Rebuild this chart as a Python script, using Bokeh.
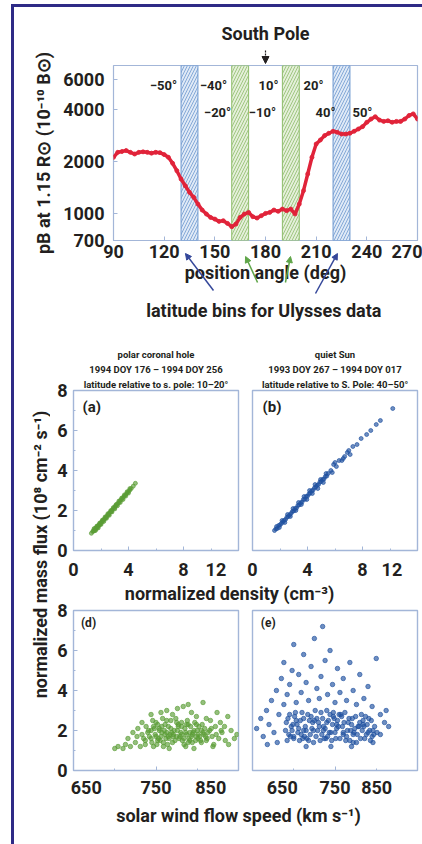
import math
from bokeh.plotting import figure
from bokeh.layouts import column, row
from bokeh.models import (Range1d, FixedTicker, PrintfTickFormatter, Label, Arrow,
                          NormalHead, Title)
from bokeh.embed import file_html
from bokeh.resources import INLINE

# ---------------- data ----------------
position_angle = [90, 92.5, 95, 97.5, 100, 102.5, 105, 107.5, 110, 112.5, 115, 117.5,
                  120, 122.5, 125, 127.5, 130, 132.5, 135, 137.5, 140, 142.5, 145, 147.5,
                  150, 152.5, 155, 157.5, 160, 162.5, 165, 167.5, 170, 172.5, 175, 177.5,
                  180, 182.5, 185, 187.5, 190, 192.5, 195, 197.5, 200, 202.5, 205, 207.5,
                  210, 212.5, 215, 217.5, 220, 222.5, 225, 227.5, 230, 232.5, 235, 237.5,
                  240, 242.5, 245, 247.5, 250, 252.5, 255, 257.5, 260, 262.5, 265, 267.5, 270]
pb_brightness = [2120, 2265, 2290, 2320, 2265, 2215, 2265, 2280, 2265, 2240, 2265, 2255,
                 2198, 2120, 1957, 1774, 1587, 1452, 1329, 1244, 1137, 1050, 996, 952,
                 931, 903, 911, 879, 841, 871, 952, 996, 1018, 961, 944, 974,
                 1004, 1018, 1050, 1032, 1064, 1041, 1064, 996, 1137, 1359, 1698, 2120,
                 2530, 2670, 2830, 2920, 3000, 2960, 2890, 2890, 2920, 3000, 3090, 3190,
                 3380, 3530, 3640, 3480, 3420, 3450, 3380, 3420, 3420, 3530, 3700, 3780, 3530]

band_left = [130, 160, 190, 220]
band_right = [140, 170, 200, 230]
band_kind = ["blue", "green", "green", "blue"]
lat_row1 = ["\u221250\u00b0", "\u221240\u00b0", "10\u00b0", "20\u00b0"]
lat_row2 = ["\u221220\u00b0", "\u221210\u00b0", "40\u00b0", "50\u00b0"]
top_xticks = [90, 120, 150, 180, 210, 240, 270]
top_yticks = [700, 1000, 2000, 4000, 6000]

# polar coronal hole (a): density vs mass flux
a_density = [1.3, 1.4, 1.45, 1.5, 1.55, 1.6, 1.65, 1.7, 1.75, 1.8, 1.85, 1.9, 1.95, 2.0,
             2.05, 2.1, 2.15, 2.2, 2.25, 2.3, 2.35, 2.4, 2.5, 2.55, 2.6, 2.7, 2.75, 2.8,
             2.9, 3.0, 3.05, 3.1, 3.2, 3.3, 3.4, 3.5, 3.6, 3.7, 3.8, 3.9, 4.0, 4.1, 4.2,
             4.35, 4.5,
             1.5, 1.7, 1.9, 2.1, 2.3, 2.5, 2.7, 2.9, 3.1, 3.3, 3.5, 3.7, 3.9, 4.1,
             1.6, 1.8, 2.0, 2.2, 2.4, 2.6, 2.8, 3.0, 3.2, 3.4, 3.6, 3.8, 4.0]
a_flux = [0.86, 0.95, 1.0, 0.98, 1.08, 1.05, 1.15, 1.12, 1.22, 1.2, 1.28, 1.3, 1.33, 1.4,
          1.42, 1.46, 1.5, 1.55, 1.56, 1.63, 1.64, 1.7, 1.78, 1.8, 1.86, 1.93, 1.95, 2.02,
          2.1, 2.15, 2.22, 2.25, 2.34, 2.4, 2.5, 2.56, 2.65, 2.72, 2.8, 2.88, 2.95, 3.02, 3.1,
          3.22, 3.36,
          1.1, 1.22, 1.37, 1.52, 1.68, 1.84, 1.99, 2.15, 2.3, 2.47, 2.62, 2.78, 2.94, 3.1,
          1.0, 1.13, 1.3, 1.45, 1.61, 1.76, 1.93, 2.08, 2.24, 2.4, 2.55, 2.72, 2.87]

# quiet Sun (b): density vs mass flux
b_density = [1.6, 1.7, 1.8, 1.9, 2.0, 2.1, 2.2, 2.3, 2.4, 2.5, 2.6, 2.7, 2.8, 2.9, 3.0,
             3.1, 3.2, 3.3, 3.4, 3.5, 3.6, 3.7, 3.8, 3.9, 4.0, 4.1, 4.2, 4.3, 4.4, 4.5,
             4.6, 4.7, 4.8, 4.9, 5.0, 5.1, 5.2, 5.3, 5.4, 5.5,
             1.75, 1.95, 2.15, 2.35, 2.55, 2.75, 2.95, 3.15, 3.35, 3.55, 3.75, 3.95, 4.15,
             4.35, 4.55, 4.75, 4.95, 5.15, 5.35,
             5.7, 5.9, 6.1, 6.3, 6.5, 6.7, 6.9, 7.1, 7.3, 7.6, 7.9, 8.3, 8.6, 9.0, 9.3,
             10.2, 5.8, 6.0, 6.6, 7.0]
b_flux = [1.0, 1.08, 1.1, 1.25, 1.28, 1.35, 1.42, 1.5, 1.55, 1.66, 1.7, 1.78, 1.85, 1.95,
          1.98, 2.1, 2.12, 2.25, 2.28, 2.38, 2.42, 2.55, 2.56, 2.7, 2.72, 2.82, 2.88, 2.98,
          3.02, 3.12, 3.18, 3.26, 3.3, 3.42, 3.45, 3.55, 3.58, 3.7, 3.72, 3.85,
          1.2, 1.15, 1.5, 1.4, 1.8, 1.7, 2.1, 2.0, 2.4, 2.3, 2.7, 2.55, 3.0, 2.85, 3.3, 3.1,
          3.55, 3.4, 3.85,
          4.0, 4.3, 4.2, 4.5, 4.5, 4.7, 4.9, 4.8, 5.2, 5.3, 5.6, 5.8, 6.0, 6.3, 6.5,
          7.1, 3.9, 4.4, 4.6, 5.0]

# polar coronal hole (d): flow speed vs mass flux
d_speed = [735, 740, 745, 748, 750, 752, 755, 757, 760, 762, 765, 767, 770, 772, 775, 777,
           780, 782, 785, 787, 790, 792, 795, 798, 800, 803, 806, 808, 812, 815,
           738, 742, 746, 751, 754, 758, 761, 764, 768, 771, 774, 778, 781, 784, 788, 791,
           794, 797, 801, 805, 809, 813, 818, 822, 826, 830, 834,
           700, 704, 710, 713, 716, 719, 722, 725, 728, 731, 733, 744, 756, 763, 770, 776,
           783, 789, 793, 799, 807, 811, 816, 820, 824, 828, 833, 837, 841, 845, 848, 838,
           727, 737, 747, 759, 766, 786, 796, 819,
           733, 737, 741, 744, 747, 749, 752, 754, 756, 759, 761, 763, 766, 768, 771, 773,
           776, 779, 781, 784, 786, 789, 791, 794, 796, 799, 802, 804, 807, 810,
           744, 750, 757, 763, 769, 775, 781, 787, 793, 799, 805, 811, 817, 823, 829,
           753, 765, 777, 789, 801]
d_flux = [1.6, 1.9, 1.4, 2.1, 1.7, 2.3, 1.5, 1.9, 2.0, 1.6, 2.2, 1.8, 1.4, 2.0, 1.7, 2.3,
          1.9, 1.5, 2.1, 1.8, 1.6, 2.2, 1.9, 1.5, 2.0, 1.7, 2.3, 1.8, 1.6, 2.0,
          2.2, 1.7, 2.5, 1.3, 2.0, 2.6, 1.8, 1.3, 2.5, 1.7, 2.6, 1.6, 2.4, 1.3, 2.5, 1.9,
          1.4, 2.4, 1.8, 1.4, 2.1, 1.9, 1.7, 2.2, 1.6, 1.9, 1.5,
          1.1, 1.2, 1.1, 1.3, 1.6, 1.2, 1.9, 1.4, 2.1, 1.2, 2.4, 2.8, 2.9, 3.0, 2.8, 3.1,
          3.2, 3.3, 2.9, 2.7, 3.4, 2.6, 2.5, 1.3, 2.9, 2.4, 2.2, 2.7, 2.0, 1.6, 1.8, 1.3,
          1.7, 1.3, 1.2, 1.2, 1.1, 1.2, 1.1, 1.2,
          1.8, 1.5, 2.0, 1.6, 2.2, 1.8, 1.5, 2.1, 1.7, 1.4, 2.3, 1.9, 1.6, 2.1, 1.8, 1.5,
          2.0, 1.7, 2.2, 1.6, 1.9, 2.3, 1.5, 1.8, 2.0, 1.7, 2.2, 1.5, 1.9, 1.7,
          2.0, 2.4, 2.2, 2.5, 1.9, 2.4, 1.8, 2.3, 1.7, 2.3, 2.0, 1.5, 2.1, 1.8, 2.0,
          1.6, 1.7, 2.2, 1.4, 1.6]

# quiet Sun (e): flow speed vs mass flux
e_speed = [690, 693, 696, 699, 702, 705, 708, 711, 714, 717, 720, 723, 726, 729, 732, 735,
           738, 741, 744, 747, 750, 753, 756, 759, 762, 765, 768, 771, 774, 777, 780, 783,
           786, 789, 792, 795, 798, 801,
           692, 698, 704, 710, 716, 722, 728, 734, 740, 746, 752, 758, 764, 770, 776, 782,
           788, 794, 700, 712, 724, 736, 748, 760, 772, 784, 796,
           655, 660, 663, 667, 670, 673, 676, 679, 682, 685, 688, 688, 692, 695, 698, 700,
           703, 706, 709, 712, 715, 718, 721, 725, 728, 731, 733, 735, 738, 741, 744, 747,
           750, 753, 756, 760, 764, 768, 772, 776, 780, 785, 790, 795, 800, 805, 810, 815,
           805, 812, 715, 745, 770, 680, 668,
           691, 694, 697, 700, 703, 706, 709, 712, 715, 718, 721, 724, 727, 730, 733, 736,
           739, 742, 745, 748, 751, 754, 757, 760, 763, 766, 769, 772, 775, 778, 781, 784,
           787, 790, 793, 796,
           695, 707, 719, 731, 743, 755, 767, 779, 791, 701, 713, 725, 737, 749, 761, 773,
           785, 797, 740, 752]
e_flux = [2.0, 2.6, 1.7, 2.3, 2.9, 1.9, 2.5, 1.6, 2.2, 2.8, 1.8, 2.4, 3.0, 2.0, 1.5, 2.6,
          2.1, 1.7, 2.8, 2.3, 1.9, 2.5, 1.6, 2.2, 2.9, 2.0, 1.5, 2.6, 2.1, 1.8, 2.4, 2.0,
          1.6, 2.3, 2.0, 1.7, 2.2, 1.9,
          1.5, 2.0, 2.3, 2.9, 1.6, 2.1, 2.6, 1.8, 2.4, 1.5, 2.1, 2.7, 1.7, 2.3, 1.4, 2.8,
          1.8, 2.5, 1.6, 2.0, 1.4, 2.2, 2.9, 1.8, 1.4, 2.5, 1.4,
          2.1, 2.6, 1.7, 3.0, 2.3, 3.5, 1.9, 4.0, 2.8, 4.6, 3.3, 5.4, 3.8, 4.3, 5.0, 6.3,
          3.4, 4.8, 3.9, 5.8, 4.4, 3.5, 5.2, 6.6, 4.1, 3.6, 4.7, 7.2, 5.5, 3.8, 6.0, 4.3,
          3.4, 5.1, 3.9, 4.6, 3.5, 5.4, 4.0, 3.3, 4.8, 3.6, 4.2, 3.2, 5.6, 2.8, 2.4, 2.2,
          1.8, 3.0, 1.2, 1.2, 1.2, 1.4, 1.3,
          2.4, 1.8, 2.2, 1.7, 2.5, 2.1, 1.8, 2.6, 2.0, 1.5, 2.7, 2.0, 1.7, 2.4, 2.9, 2.0,
          1.6, 2.5, 1.9, 2.7, 1.6, 2.2, 2.8, 1.9, 1.5, 2.4, 2.0, 1.8, 2.7, 2.2, 1.6, 2.3,
          2.7, 1.9, 1.5, 2.0,
          2.8, 1.5, 2.5, 2.2, 1.9, 2.8, 2.6, 2.2, 2.6, 2.7, 1.7, 2.5, 1.6, 2.6, 2.4, 1.9,
          2.2, 1.8, 3.0, 2.3]

density_ticks = [0, 4, 8, 12]
speed_ticks = [650, 750, 850]
flux_ticks = [0, 2, 4, 6, 8]

# ---------------- style ----------------
FONT = "Roboto"
TXT = "#231f20"
FRAME = "#a3b6d8"
RED = "#e0233a"
GREEN = "#5a9c36"
BLUE = "#2152a0"
NAVY = "#2e2a86"
FS = "18px"


def style_axis(ax, standoff):
    ax.axis_line_color = None
    ax.major_tick_in = 4
    ax.major_tick_out = 0
    ax.minor_tick_in = 2
    ax.minor_tick_out = 0
    ax.major_tick_line_color = FRAME
    ax.minor_tick_line_color = FRAME
    ax.major_label_text_font = FONT
    ax.major_label_text_font_style = "bold"
    ax.major_label_text_font_size = FS
    ax.major_label_text_color = TXT
    ax.major_label_standoff = standoff
    ax.axis_label_text_font = FONT
    ax.axis_label_text_font_style = "bold"
    ax.axis_label_text_font_size = FS
    ax.axis_label_text_color = TXT


def lab(p, x, y, text, size, align="center"):
    p.add_layout(Label(x=x, y=y, text=text, text_font=FONT, text_font_style="bold",
                       text_font_size=size, text_color=TXT, text_align=align,
                       text_baseline="middle"))


def blank(width, height, xr, yr, left=0, right=0, transparent=False):
    f = figure(width=width, height=height, x_range=Range1d(*xr), y_range=Range1d(*yr),
               x_axis_location=None, y_axis_location=None, output_backend="svg",
               toolbar_location=None, title_location=None,
               min_border_left=left, min_border_right=right,
               min_border_top=0, min_border_bottom=0)
    f.outline_line_color = None
    f.grid.visible = False
    if transparent:
        f.background_fill_color = None
        f.border_fill_color = None
    return f


# ---------------- header: South Pole ----------------
header = blank(408, 58, (90, 270), (0, 58), left=99, right=5)
lab(header, 180, 32, "South Pole", "18px")
header.add_layout(Arrow(end=NormalHead(size=7, fill_color=TXT, line_color=TXT),
                        x_start=180, y_start=15, x_end=180, y_end=2,
                        line_color=TXT, line_width=1.2, line_dash="2 1"))

# ---------------- top panel ----------------
top = figure(width=408, height=283, x_range=Range1d(90, 270), y_range=Range1d(700, 7200),
             y_axis_type="log", output_backend="svg", toolbar_location=None,
             title_location=None,
             min_border_left=99, min_border_right=5, min_border_top=18, min_border_bottom=90)
top.margin = (-18, 0, 0, 0)
top.border_fill_color = None
top.outline_line_color = FRAME
top.outline_line_width = 1.2
top.grid.visible = False

fills = {"blue": "#dfe9f6", "green": "#e4efd9"}
hatches = {"blue": "#6d98cf", "green": "#8fbd6b"}
top.quad(left=band_left, right=band_right, bottom=700, top=7200,
         fill_color=[fills[k] for k in band_kind], hatch_pattern="/",
         hatch_color=[hatches[k] for k in band_kind], hatch_scale=6, hatch_weight=0.8,
         line_color=[hatches[k] for k in band_kind], line_width=1)
top.line(position_angle, pb_brightness, line_color=RED, line_width=3.5)
top.scatter(position_angle, pb_brightness, size=4, color=RED, alpha=0.85)

top.xaxis.ticker = FixedTicker(ticks=top_xticks, minor_ticks=[])
top.yaxis.ticker = FixedTicker(ticks=top_yticks, minor_ticks=[])
top.yaxis.formatter = PrintfTickFormatter(format="%d")
style_axis(top.xaxis[0], 4)
style_axis(top.yaxis[0], 9)
top.xaxis.axis_label = "position angle (deg)"
top.xaxis.axis_label_standoff = 1
top.yaxis.axis_label = "pB at 1.15 R\u2299 (10\u207b\u00b9\u2070 B\u2299)"
top.yaxis.axis_label_standoff = 6

for t, x in zip(lat_row1, [119.6, 149.2, 181.8, 208.4]):
    lab(top, x, 5500, t, "13px")
for t, x in zip(lat_row2, [151.6, 178.2, 215.5, 237.4]):
    lab(top, x, 3850, t, "13px")

# ---------------- overlay under the top panel: arrows to the bins ----------------
overlay = blank(408, 90, (90, 270), (0, 90), left=99, right=5, transparent=True)
overlay.margin = (-90, 0, 0, 0)
lab(overlay, 179, 20, "latitude bins for Ulysses data", "18px")
ARROW_BLUE = "#34479a"
ARROW_GREEN = "#5fa548"
for (xs, ys, xe, ye, c) in [(149.2, 40, 132.6, 77, ARROW_BLUE),
                            (175.3, 48, 168.2, 74, ARROW_GREEN),
                            (191.8, 48, 194.8, 74, ARROW_GREEN),
                            (209.6, 37, 222.6, 77, ARROW_BLUE)]:
    overlay.add_layout(Arrow(end=NormalHead(size=6, fill_color=c, line_color=c),
                             x_start=xs, y_start=ys, x_end=xe, y_end=ye,
                             line_color=c, line_width=1.5))


# ---------------- scatter panels ----------------
def panel(x, y, color, size, xr, xticks, xminor, overrides, show_y, width, left, right,
          height, top_b, bottom_b, tag, tx, ty, tsize, xstand, transparent=False):
    p = figure(width=width, height=height, x_range=Range1d(*xr), y_range=Range1d(0, 8),
               output_backend="svg", toolbar_location=None, title_location=None,
               min_border_left=left, min_border_right=right,
               min_border_top=top_b, min_border_bottom=bottom_b)
    if transparent:
        p.border_fill_color = None
    p.outline_line_color = FRAME
    p.outline_line_width = 1.4
    p.grid.visible = False
    p.scatter(x, y, size=size, color=color, alpha=0.65)
    p.xaxis.ticker = FixedTicker(ticks=xticks, minor_ticks=xminor)
    p.yaxis.ticker = FixedTicker(ticks=flux_ticks, minor_ticks=[1, 3, 5, 7])
    p.xaxis.major_label_overrides = overrides
    style_axis(p.xaxis[0], xstand)
    style_axis(p.yaxis[0], 6)
    if not show_y:
        p.yaxis.visible = False
    lab(p, tx, ty, tag, tsize, align="left")
    return p


FSP = "\u2007"
fa = panel(a_density, a_flux, GREEN, 4, (0, 12), density_ticks, [2, 6, 10],
           {12: "12" + FSP + FSP}, True, 196, 23, 8, 252, 60, 26, "(a)", 0.65, 7.2, "15px", 8)
fb = panel(b_density, b_flux, BLUE, 4, (0, 12), density_ticks, [2, 6, 10],
           {12: "12" + FSP + FSP}, False, 176, 6, 5, 252, 60, 26, "(b)", 0.73, 7.2, "15px", 8)
fd = panel(d_speed, d_flux, GREEN, 4.5, (650, 850), speed_ticks, [700, 800],
           {650: FSP + FSP + "650", 850: "850" + FSP + FSP}, True, 196, 23, 8, 202, 12, 26,
           "(d)", 659, 7.4, "12px", 6, transparent=True)
fe = panel(e_speed, e_flux, BLUE, 4.5, (650, 850), speed_ticks, [700, 800],
           {650: FSP + FSP + "650", 850: "850" + FSP + FSP + FSP}, False, 176, 6, 5, 202, 12, 26,
           "(e)", 660, 7.4, "12px", 6, transparent=True)

for p, lines in [(fa, ["latitude relative to s. pole: 10\u201320\u00b0",
                       "1994 DOY 176 \u2013 1994 DOY 256", "polar coronal hole"]),
                 (fb, ["latitude relative to S. Pole: 40\u201350\u00b0",
                       "1993 DOY 267 \u2013 1994 DOY 017", "quiet Sun"])]:
    for ln in lines:
        p.add_layout(Title(text=ln, align="center", text_font=FONT, text_font_style="bold",
                           text_font_size="9.5px", text_color=TXT, standoff=2), "above")


def text_fig(w, h, text, x, y, angle=0.0):
    f = blank(w, h, (0, w), (0, h))
    f.add_layout(Label(x=x, y=y, text=text, angle=angle, text_font=FONT,
                       text_font_style="bold", text_font_size=FS, text_color=TXT,
                       text_align="center", text_baseline="middle"))
    return f


ylab_fig = text_fig(36, 514, "normalized mass flux (10\u2078 cm\u207b\u00b2 s\u207b\u00b9)",
                    26, 290, math.pi / 2)
dens_fig = text_fig(372, 28, "normalized density (cm\u207b\u00b3)", 179, 17)
dens_fig.margin = (0, 0, -12, 0)
speed_fig = text_fig(372, 44, "solar wind flow speed (km s\u207b\u00b9)", 188, 29)

bottom = row(ylab_fig, column(row(fa, fb), dens_fig, row(fd, fe), speed_fig))
page = column(header, top, overlay, bottom, margin=(4, 0, 0, 11),
              styles={"border-left": "3px solid " + NAVY, "border-top": "3px solid " + NAVY})

open("out.html", "w").write(file_html(page, INLINE))
